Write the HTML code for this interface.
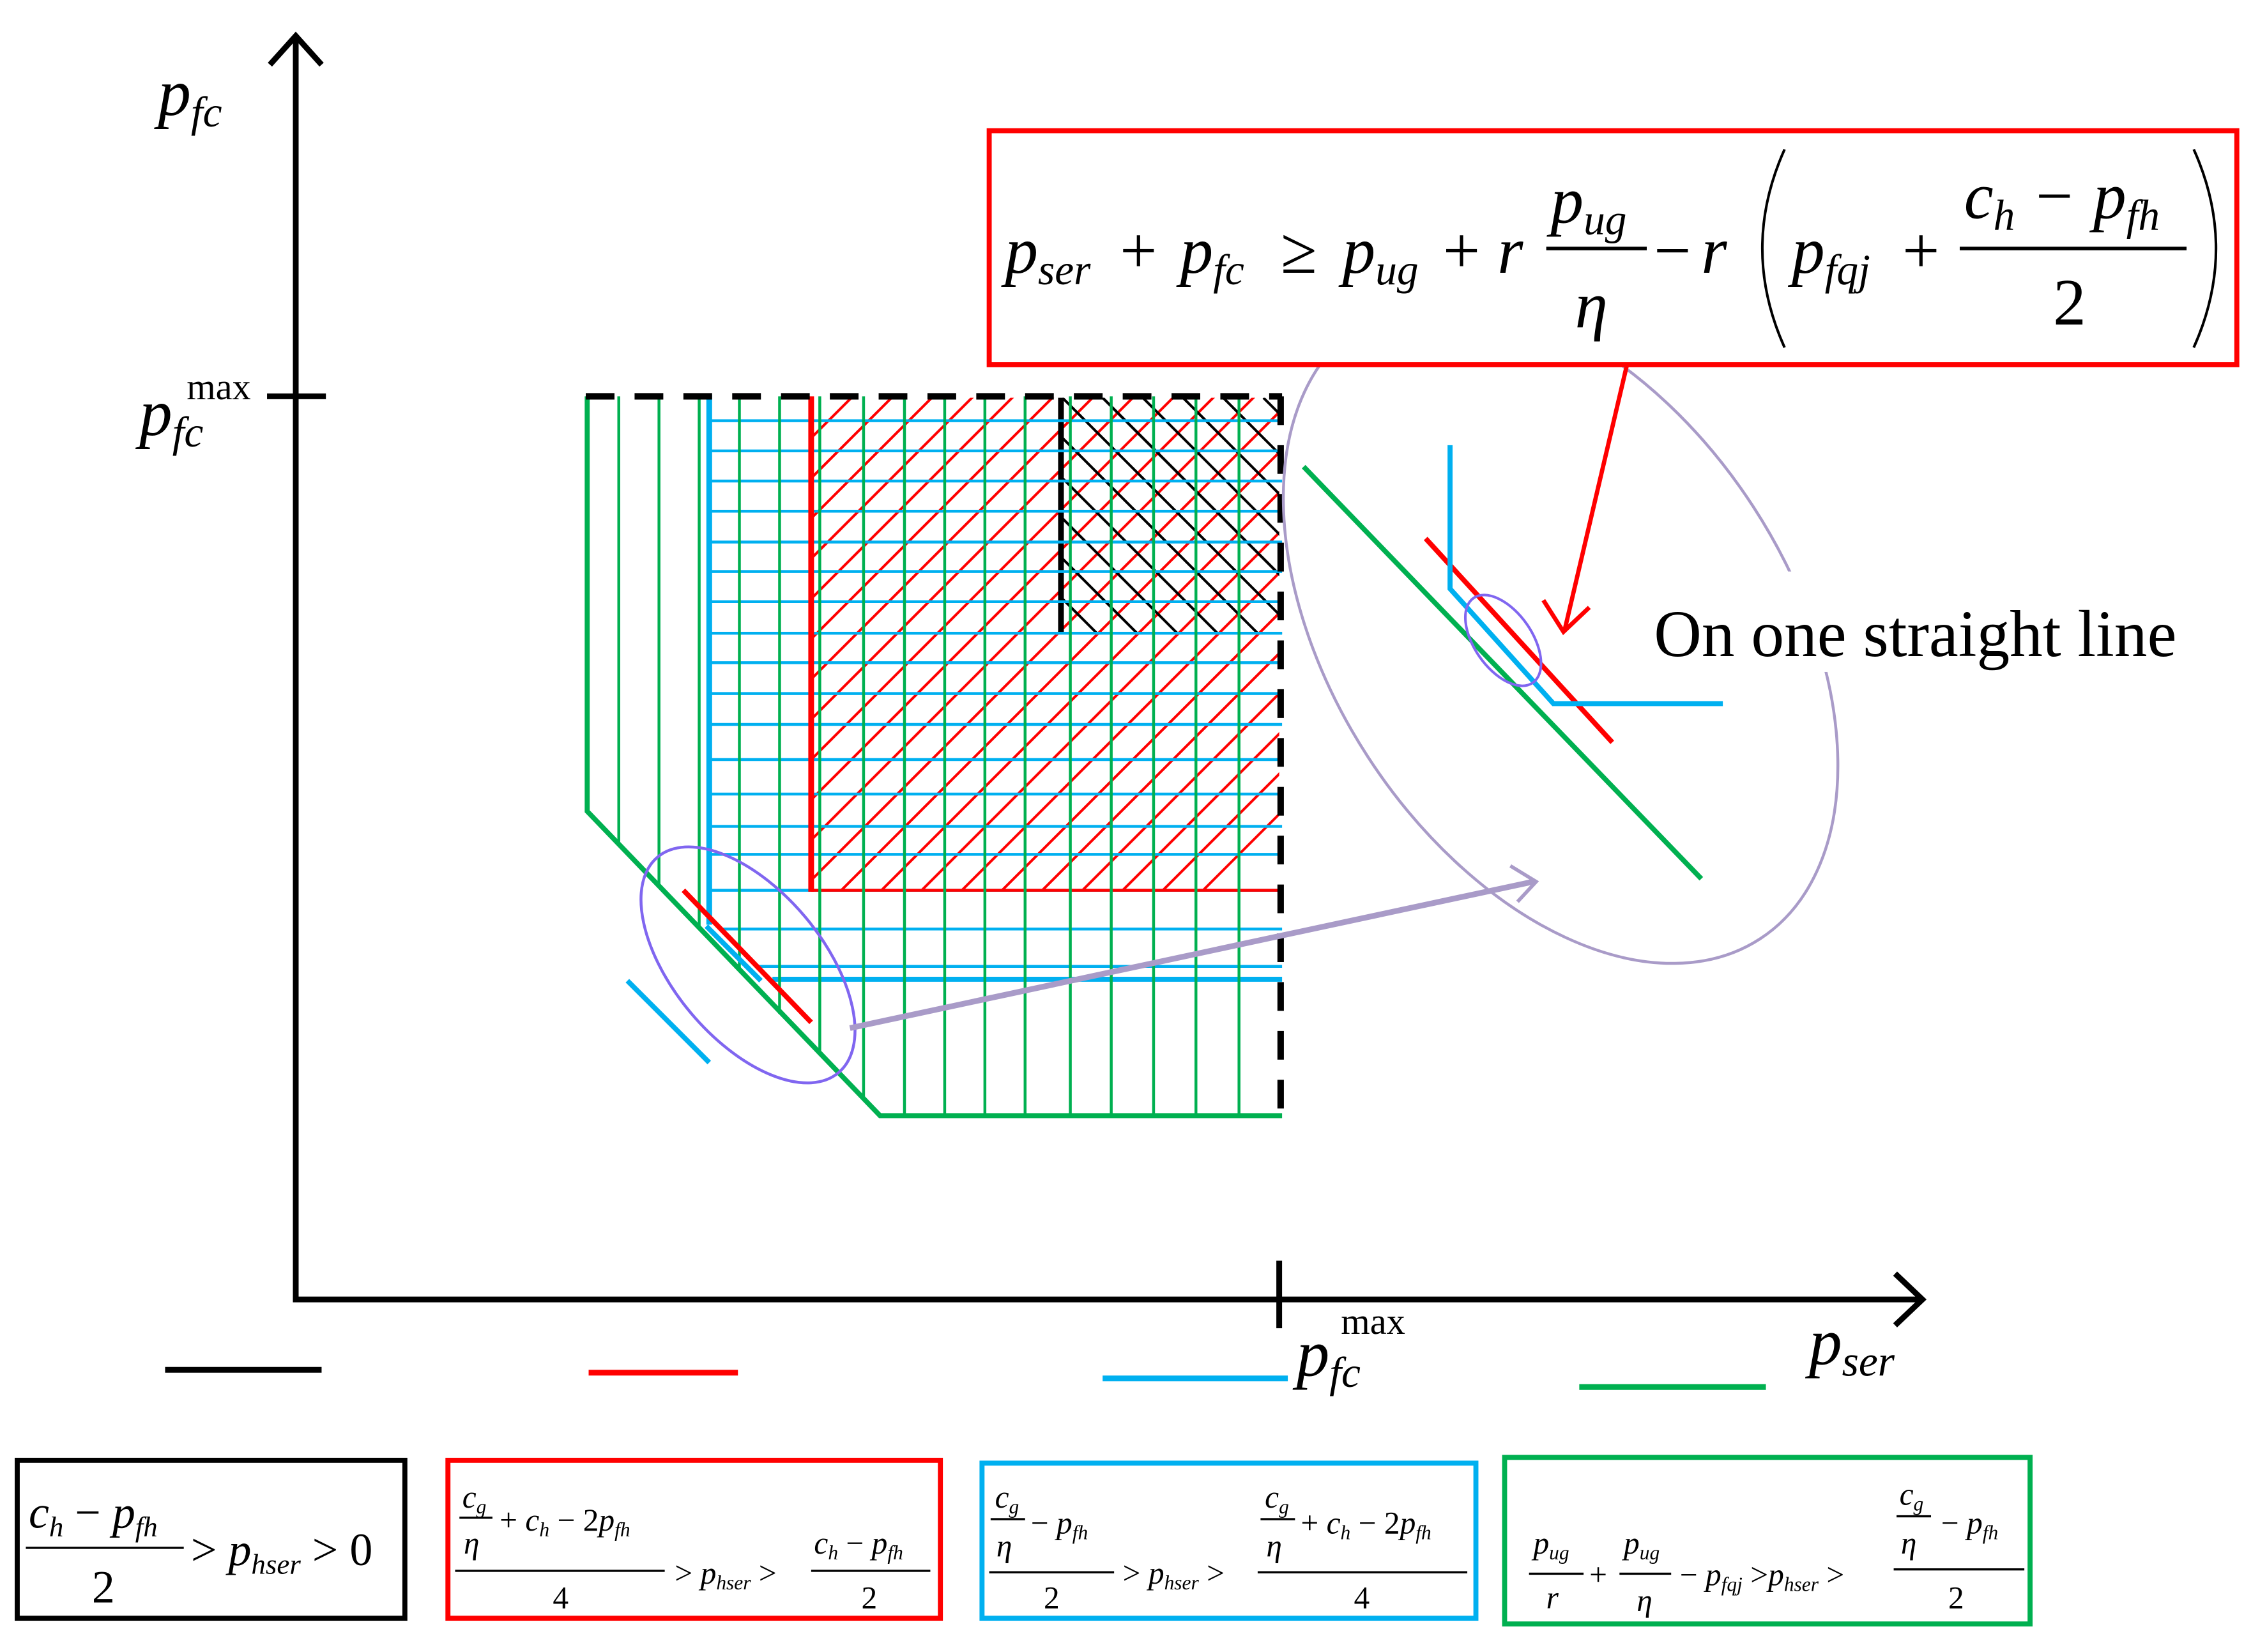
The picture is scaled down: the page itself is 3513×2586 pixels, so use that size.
<!DOCTYPE html>
<html><head><meta charset="utf-8"><style>html,body{margin:0;padding:0;background:#fff}svg{display:block}text{font-family:"Liberation Serif",serif}</style></head>
<body>
<svg width="3513" height="2586" viewBox="0 0 1563 1150.5" xmlns="http://www.w3.org/2000/svg">
<defs>
<clipPath id="rc"><rect x="565" y="277" width="326" height="343"/></clipPath>
<clipPath id="bc"><rect x="740" y="277" width="151" height="164"/></clipPath>
</defs>
<rect width="1563" height="1151" fill="#fff"/>
<g stroke="#000" stroke-width="4" fill="none">
<line x1="206" y1="27" x2="206" y2="906"/>
<line x1="204" y1="905" x2="1338" y2="905"/>
<polyline points="188,45 206,25 224,45"/>
<polyline points="1320,887 1339,905 1320,923"/>
<line x1="186" y1="276" x2="227" y2="276"/>
<line x1="891" y1="878" x2="891" y2="925"/>
</g>
<g clip-path="url(#rc)" stroke="#f00" stroke-width="1.8">
<line x1="565" y1="305" x2="600" y2="270"/><line x1="565" y1="333" x2="630" y2="268"/><line x1="565" y1="361" x2="660" y2="266"/><line x1="565" y1="389" x2="690" y2="264"/><line x1="565" y1="417" x2="720" y2="262"/><line x1="565" y1="445" x2="750" y2="260"/><line x1="565" y1="473" x2="780" y2="258"/><line x1="565" y1="501" x2="810" y2="256"/><line x1="565" y1="529" x2="840" y2="254"/><line x1="565" y1="557" x2="870" y2="252"/><line x1="565" y1="585" x2="900" y2="250"/><line x1="565" y1="613" x2="930" y2="248"/><line x1="565" y1="641" x2="960" y2="246"/><line x1="565" y1="669" x2="990" y2="244"/><line x1="565" y1="697" x2="1020" y2="242"/><line x1="565" y1="725" x2="1050" y2="240"/><line x1="565" y1="753" x2="1080" y2="238"/><line x1="565" y1="781" x2="1110" y2="236"/><line x1="565" y1="809" x2="1140" y2="234"/><line x1="565" y1="837" x2="1170" y2="232"/><line x1="565" y1="865" x2="1200" y2="230"/><line x1="565" y1="893" x2="1230" y2="228"/>
</g>
<g clip-path="url(#bc)" stroke="#000" stroke-width="1.8">
<line x1="740" y1="249" x2="940" y2="449"/><line x1="740" y1="277" x2="940" y2="477"/><line x1="740" y1="305" x2="940" y2="505"/><line x1="740" y1="333" x2="940" y2="533"/><line x1="740" y1="361" x2="940" y2="561"/><line x1="740" y1="389" x2="940" y2="589"/><line x1="740" y1="417" x2="940" y2="617"/><line x1="768" y1="277" x2="968" y2="477"/><line x1="796" y1="277" x2="996" y2="477"/><line x1="824" y1="277" x2="1024" y2="477"/><line x1="852" y1="277" x2="1052" y2="477"/><line x1="880" y1="277" x2="1080" y2="477"/>
</g>
<line x1="739" y1="277" x2="739" y2="441" stroke="#000" stroke-width="4"/>
<line x1="739" y1="441" x2="893" y2="441" stroke="#000" stroke-width="1.5"/>
<g stroke="#00b0f0" stroke-width="2">
<line x1="494" y1="293" x2="893" y2="293"/><line x1="494" y1="314" x2="893" y2="314"/><line x1="494" y1="335" x2="893" y2="335"/><line x1="494" y1="356" x2="893" y2="356"/><line x1="494" y1="377.5" x2="893" y2="377.5"/><line x1="494" y1="398" x2="893" y2="398"/><line x1="494" y1="419" x2="893" y2="419"/><line x1="494" y1="441" x2="893" y2="441"/><line x1="494" y1="461.5" x2="893" y2="461.5"/><line x1="494" y1="483" x2="893" y2="483"/><line x1="494" y1="504.5" x2="893" y2="504.5"/><line x1="494" y1="529" x2="893" y2="529"/><line x1="494" y1="553" x2="893" y2="553"/><line x1="494" y1="575.5" x2="893" y2="575.5"/><line x1="494" y1="595" x2="893" y2="595"/><line x1="494" y1="620" x2="893" y2="620"/><line x1="502" y1="647" x2="893" y2="647"/><line x1="527" y1="673" x2="893" y2="673"/>
<line x1="538" y1="682" x2="893" y2="682" stroke-width="3.5"/>
</g>
<line x1="494" y1="275" x2="494" y2="644" stroke="#00b0f0" stroke-width="4"/>
<line x1="565" y1="276" x2="565" y2="621" stroke="#f00" stroke-width="4"/>
<line x1="565" y1="620" x2="893" y2="620" stroke="#f00" stroke-width="2"/>
<g stroke="#00b050" stroke-width="2">
<line x1="431" y1="276" x2="431" y2="589"/><line x1="459" y1="276" x2="459" y2="618"/><line x1="487" y1="276" x2="487" y2="647"/><line x1="515" y1="276" x2="515" y2="676"/><line x1="543" y1="276" x2="543" y2="706"/><line x1="571" y1="276" x2="571" y2="735"/><line x1="601.5" y1="276" x2="601.5" y2="766"/><line x1="630" y1="276" x2="630" y2="778"/><line x1="658" y1="276" x2="658" y2="778"/><line x1="686" y1="276" x2="686" y2="778"/><line x1="714" y1="276" x2="714" y2="778"/><line x1="745.5" y1="276" x2="745.5" y2="778"/><line x1="774" y1="276" x2="774" y2="778"/><line x1="803.5" y1="276" x2="803.5" y2="778"/><line x1="833" y1="276" x2="833" y2="778"/><line x1="863" y1="276" x2="863" y2="778"/>
</g>
<polyline points="409,276 409,565 613,777 893,777" fill="none" stroke="#00b050" stroke-width="3.5"/>
<g stroke="#000" stroke-width="4.5" fill="none" stroke-dasharray="20,14">
<line x1="408" y1="276" x2="893" y2="276"/>
<line x1="892" y1="276" x2="892" y2="778"/>
</g>
<line x1="476" y1="620" x2="565" y2="712" stroke="#f00" stroke-width="3.5"/>
<line x1="492" y1="645" x2="530" y2="683" stroke="#00b0f0" stroke-width="3.5"/>
<line x1="437" y1="683" x2="494" y2="740" stroke="#00b0f0" stroke-width="3.5"/>
<ellipse cx="521" cy="672" rx="98" ry="52" transform="rotate(50 521 672)" fill="none" stroke="#8066f0" stroke-width="2"/>
<line x1="592" y1="716" x2="1068" y2="614" stroke="#a99bc8" stroke-width="4"/>
<polyline points="1052,603 1070,614 1057,628" fill="none" stroke="#a99bc8" stroke-width="2.5"/>
<ellipse cx="1087" cy="440" rx="255" ry="160" transform="rotate(57 1087 440)" fill="none" stroke="#a99bc8" stroke-width="2"/>
<line x1="908" y1="325" x2="1185" y2="612" stroke="#00b050" stroke-width="3.5"/>
<line x1="993" y1="375" x2="1123" y2="517" stroke="#f00" stroke-width="3.5"/>
<polyline points="1010,310 1010,410 1082,490 1200,490" fill="none" stroke="#00b0f0" stroke-width="3.5"/>
<ellipse cx="1047" cy="446" rx="36" ry="20" transform="rotate(55 1047 446)" fill="none" stroke="#8066f0" stroke-width="1.8"/>
<line x1="1133" y1="255" x2="1090" y2="438" stroke="#f00" stroke-width="3"/>
<polyline points="1075,418 1089,440 1107,423" fill="none" stroke="#f00" stroke-width="3"/>
<rect x="1150" y="398" width="400" height="70" fill="#fff"/>
<text x="1152" y="457" font-size="46">On one straight line</text>
<rect x="689" y="91" width="869" height="163" fill="#fff" stroke="#f00" stroke-width="3.5"/>
<g font-size="46" font-style="italic">
<text x="700" y="190">p<tspan font-size="30" dy="8">ser</tspan></text>
<text x="780" y="190" font-style="normal">+</text>
<text x="822" y="190">p<tspan font-size="30" dy="8">fc</tspan></text>
<text x="892" y="190" font-style="normal">≥</text>
<text x="935" y="190">p<tspan font-size="30" dy="8">ug</tspan></text>
<text x="1005" y="190" font-style="normal">+</text>
<text x="1043" y="190">r</text>
<text x="1080" y="155">p<tspan font-size="30" dy="8">ug</tspan></text>
<text x="1097" y="228">η</text>
<text x="1152" y="190" font-style="normal">−</text>
<text x="1185" y="190">r</text>
<text x="1248" y="190">p<tspan font-size="30" dy="8">fqj</tspan></text>
<text x="1325" y="190" font-style="normal">+</text>
<text x="1368" y="152">c<tspan font-size="30" dy="8">h</tspan></text>
<text x="1418" y="152" font-style="normal">−</text>
<text x="1458" y="152">p<tspan font-size="30" dy="8">fh</tspan></text>
<text x="1430" y="226" font-style="normal">2</text>
</g>
<line x1="1077" y1="173" x2="1147" y2="173" stroke="#000" stroke-width="2.5"/>
<line x1="1365" y1="173" x2="1523" y2="173" stroke="#000" stroke-width="2.5"/>
<path d="M1243,104 Q1212,173 1243,242" fill="none" stroke="#000" stroke-width="1.8"/>
<path d="M1528,104 Q1559,173 1528,242" fill="none" stroke="#000" stroke-width="1.8"/>
<g font-style="italic" font-size="46">
<text x="110" y="80">p<tspan font-size="30" dy="8">fc</tspan></text>
<text x="97" y="303">p<tspan font-size="30" dy="8">fc</tspan></text>
<text x="903" y="958">p<tspan font-size="30" dy="8">fc</tspan></text>
<text x="1260" y="950">p<tspan font-size="30" dy="8">ser</tspan></text>
</g>
<text x="130" y="278" font-size="26">max</text>
<text x="934" y="929" font-size="26">max</text>
<line x1="115" y1="954" x2="224" y2="954" stroke="#000" stroke-width="4"/>
<line x1="410" y1="956" x2="514" y2="956" stroke="#f00" stroke-width="4"/>
<line x1="768" y1="960" x2="897" y2="960" stroke="#00b0f0" stroke-width="4"/>
<line x1="1100" y1="966" x2="1230" y2="966" stroke="#00b050" stroke-width="4"/>
<rect x="12" y="1017" width="270" height="110" fill="none" stroke="#000" stroke-width="3.5"/>
<rect x="312" y="1017" width="343" height="110" fill="none" stroke="#f00" stroke-width="3.5"/>
<rect x="684" y="1019" width="344" height="108" fill="none" stroke="#00b0f0" stroke-width="3.5"/>
<rect x="1048" y="1015" width="366" height="116" fill="none" stroke="#00b050" stroke-width="3.5"/>
<g stroke="#000" stroke-width="1.5">
<line x1="18" y1="1078" x2="128" y2="1078"/>
<line x1="317" y1="1094" x2="463" y2="1094"/><line x1="320" y1="1057" x2="343" y2="1057"/>
<line x1="565" y1="1094" x2="648" y2="1094"/>
<line x1="689" y1="1095" x2="776" y2="1095"/><line x1="690" y1="1058" x2="714" y2="1058"/>
<line x1="876" y1="1095" x2="1022" y2="1095"/><line x1="878" y1="1058" x2="902" y2="1058"/>
<line x1="1065" y1="1096" x2="1103" y2="1096"/><line x1="1128" y1="1096" x2="1164" y2="1096"/>
<line x1="1319" y1="1093" x2="1410" y2="1093"/><line x1="1321" y1="1056" x2="1345" y2="1056"/>
</g>
<g font-style="italic">
<text x="20" y="1064" font-size="32">c<tspan font-size="20" dy="6">h</tspan><tspan font-style="normal" dy="-6"> − </tspan>p<tspan font-size="20" dy="6">fh</tspan></text>
<text x="64" y="1116" font-size="32" font-style="normal">2</text>
<text x="133" y="1090" font-size="32"><tspan font-style="normal">&gt;</tspan> p<tspan font-size="20" dy="6">hser</tspan><tspan dy="-6" font-style="normal"> &gt; 0</tspan></text>
<g font-size="22">
<text x="322" y="1050">c<tspan font-size="14" dy="4">g</tspan></text>
<text x="323" y="1082">η</text>
<text x="348" y="1066"><tspan font-style="normal">+ </tspan>c<tspan font-size="14" dy="4">h</tspan><tspan dy="-4" font-style="normal"> − 2</tspan>p<tspan font-size="14" dy="4">fh</tspan></text>
<text x="385" y="1120" font-style="normal">4</text>
<text x="470" y="1103"><tspan font-style="normal">&gt; </tspan>p<tspan font-size="14" dy="4">hser</tspan><tspan dy="-4" font-style="normal"> &gt;</tspan></text>
<text x="567" y="1082">c<tspan font-size="14" dy="4">h</tspan><tspan dy="-4" font-style="normal"> − </tspan>p<tspan font-size="14" dy="4">fh</tspan></text>
<text x="600" y="1120" font-style="normal">2</text>
<text x="693" y="1050">c<tspan font-size="14" dy="4">g</tspan></text>
<text x="694" y="1084">η</text>
<text x="718" y="1068"><tspan font-style="normal">− </tspan>p<tspan font-size="14" dy="4">fh</tspan></text>
<text x="727" y="1120" font-style="normal">2</text>
<text x="782" y="1103"><tspan font-style="normal">&gt; </tspan>p<tspan font-size="14" dy="4">hser</tspan><tspan dy="-4" font-style="normal"> &gt;</tspan></text>
<text x="881" y="1050">c<tspan font-size="14" dy="4">g</tspan></text>
<text x="882" y="1084">η</text>
<text x="906" y="1068"><tspan font-style="normal">+ </tspan>c<tspan font-size="14" dy="4">h</tspan><tspan dy="-4" font-style="normal"> − 2</tspan>p<tspan font-size="14" dy="4">fh</tspan></text>
<text x="943" y="1120" font-style="normal">4</text>
<text x="1068" y="1082">p<tspan font-size="14" dy="4">ug</tspan></text>
<text x="1077" y="1120">r</text>
<text x="1107" y="1104" font-style="normal">+</text>
<text x="1131" y="1082">p<tspan font-size="14" dy="4">ug</tspan></text>
<text x="1140" y="1122">η</text>
<text x="1170" y="1104"><tspan font-style="normal">− </tspan>p<tspan font-size="14" dy="4">fqj</tspan><tspan dy="-4" font-style="normal"> &gt;</tspan>p<tspan font-size="14" dy="4">hser</tspan><tspan dy="-4" font-style="normal"> &gt;</tspan></text>
<text x="1323" y="1048">c<tspan font-size="14" dy="4">g</tspan></text>
<text x="1324" y="1082">η</text>
<text x="1352" y="1068"><tspan font-style="normal">− </tspan>p<tspan font-size="14" dy="4">fh</tspan></text>
<text x="1357" y="1120" font-style="normal">2</text>
</g>
</g>
</svg>
</body></html>
